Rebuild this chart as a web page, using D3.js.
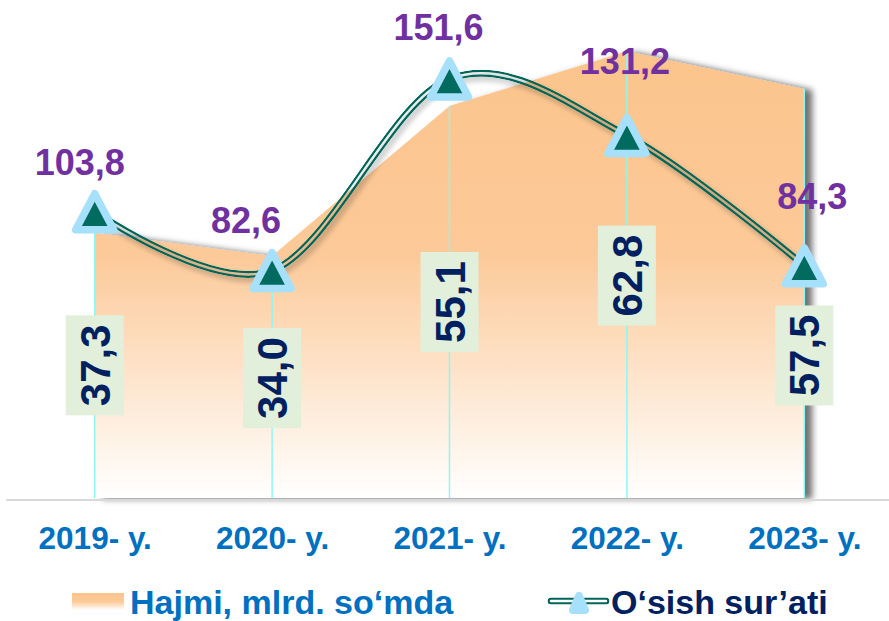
<!DOCTYPE html>
<html><head><meta charset="utf-8">
<script src="https://cdn.jsdelivr.net/npm/d3@7"></script>
<style>body{margin:0;background:#fff}svg{display:block}</style>
</head><body>
<svg id="c" width="889" height="621"></svg>
<script>
// ---- data ----
const categories = ["2019- y.", "2020- y.", "2021- y.", "2022- y.", "2023- y."];
const volume = [37.3, 34.0, 55.1, 62.8, 57.5];      // Hajmi, mlrd. so‘mda
const growth = [103.8, 82.6, 151.6, 131.2, 84.3];   // O‘sish sur’ati
const seriesNames = ["Hajmi, mlrd. so‘mda", "O‘sish sur’ati"];
// manual annotation placement (as in the original)
const growthLabelOffsets = [[-15, -37], [-26, -38], [-11, -39], [-2, -62], [8, -57]];
const volumeLabelShift = [0, 1, 0, 1, 62];

const W = 889, H = 621;
const FONT = "'Liberation Sans', Arial, sans-serif";
const svg = d3.select("#c");
const x = d3.scalePoint().domain(categories).range([6, 893]).padding(0.5);
const yVol = d3.scaleLinear().domain([0, 70]).range([498, 0]);
const yGr = d3.scaleLinear().domain([0, 180]).range([500, 0]);
const fmt = d3.formatLocale({decimal: ",", thousands: " ", grouping: [3], currency: ["", ""]}).format(".1f");

const defs = svg.append("defs");
const g1 = defs.append("linearGradient").attr("id", "areaGrad")
  .attr("gradientUnits", "userSpaceOnUse")
  .attr("x1", 0).attr("x2", 0).attr("y1", yVol(d3.max(volume))).attr("y2", yVol(0));
g1.append("stop").attr("offset", 0).attr("stop-color", "#FBC48C");
g1.append("stop").attr("offset", 0.45).attr("stop-color", "#FCC998");
g1.append("stop").attr("offset", 1).attr("stop-color", "#FFFFFF");
const g2 = defs.append("linearGradient").attr("id", "legGrad").attr("x1", 0).attr("x2", 0).attr("y1", 0).attr("y2", 1);
g2.append("stop").attr("offset", 0).attr("stop-color", "#FBC48C");
g2.append("stop").attr("offset", 0.5).attr("stop-color", "#FCC998");
g2.append("stop").attr("offset", 1).attr("stop-color", "#FFFFFF");

const fa = defs.append("filter").attr("id", "areaShadow").attr("x", "-10%").attr("y", "-10%").attr("width", "120%").attr("height", "120%");
fa.append("feDropShadow").attr("dx", 8).attr("dy", 1).attr("stdDeviation", 3)
  .attr("flood-color", "#000").attr("flood-opacity", 0.55);
const fl = defs.append("filter").attr("id", "lineShadow").attr("x", "-10%").attr("y", "-20%").attr("width", "120%").attr("height", "140%");
fl.append("feDropShadow").attr("dx", 3).attr("dy", 4).attr("stdDeviation", 2.5)
  .attr("flood-color", "#000").attr("flood-opacity", 0.35);

const lineGen = d3.line().x((d, i) => x(categories[i])).y(d => yGr(d)).curve(d3.curveCardinal.tension(0));
const areaGen = d3.area().x((d, i) => x(categories[i])).y0(yVol(0)).y1(d => yVol(d));

// mask for double line (transparent gap)
const mk = defs.append("mask").attr("id", "dblMask").attr("maskUnits", "userSpaceOnUse")
  .attr("x", 0).attr("y", 0).attr("width", W).attr("height", H);
mk.append("path").attr("d", lineGen(growth)).attr("fill", "none").attr("stroke", "#fff").attr("stroke-width", 7);
mk.append("path").attr("d", lineGen(growth)).attr("fill", "none").attr("stroke", "#000").attr("stroke-width", 2.4);

// ---- area ----
svg.append("path").attr("d", areaGen(volume)).attr("fill", "url(#areaGrad)").attr("filter", "url(#areaShadow)");

// baseline
svg.append("line").attr("x1", 6).attr("x2", W).attr("y1", 500).attr("y2", 500)
  .attr("stroke", "#D9D9D9").attr("stroke-width", 2);

// drop lines
svg.append("g").selectAll("line").data(volume).join("line")
  .attr("x1", (d, i) => x(categories[i])).attr("x2", (d, i) => x(categories[i]))
  .attr("y1", d => yVol(d)).attr("y2", yVol(0))
  .attr("stroke", "#8CF7F7").attr("stroke-width", 1.5);

// volume labels (rotated, in green boxes)
const vl = svg.append("g").selectAll("g").data(volume).join("g")
  .attr("transform", (d, i) => `translate(${x(categories[i])},${(yVol(d) + yVol(0)) / 2 + volumeLabelShift[i]})`);
vl.append("rect").attr("x", -29).attr("y", -50).attr("width", 58).attr("height", 100).attr("fill", "#E2EFDA");
vl.append("text").attr("transform", "rotate(-90)")
  .attr("text-anchor", "middle").attr("y", 15)
  .attr("font-family", FONT).attr("font-weight", "bold").attr("font-size", 42)
  .attr("fill", "#002060").text(d => fmt(d));

// ---- growth line ----
const lg = svg.append("g").attr("filter", "url(#lineShadow)");
lg.append("path").attr("d", lineGen(growth)).attr("fill", "none")
  .attr("stroke", "#00665A").attr("stroke-width", 7).attr("mask", "url(#dblMask)");

// markers
function tri(w, h) { return `M0,${-h / 2}L${w / 2},${h / 2}L${-w / 2},${h / 2}Z`; }
svg.append("g").selectAll("path").data(growth).join("path")
  .attr("transform", (d, i) => `translate(${x(categories[i])},${yGr(d)})`)
  .attr("d", tri(38, 36)).attr("fill", "#006B5E")
  .attr("stroke", "#A6E0FA").attr("stroke-width", 7.5).attr("stroke-linejoin", "round");

// growth labels
svg.append("g").selectAll("text").data(growth).join("text")
  .attr("x", (d, i) => x(categories[i]) + growthLabelOffsets[i][0])
  .attr("y", (d, i) => yGr(d) + growthLabelOffsets[i][1])
  .attr("text-anchor", "middle")
  .attr("font-family", FONT).attr("font-weight", "bold").attr("font-size", 36)
  .attr("fill", "#7030A0").text(d => fmt(d));

// ---- x axis ----
const ax = svg.append("g").attr("transform", "translate(0,500)")
  .call(d3.axisBottom(x).tickSize(0).tickPadding(27));
ax.select(".domain").remove();
ax.selectAll("text").attr("font-family", FONT).attr("font-weight", "bold")
  .attr("font-size", 31.5).attr("fill", "#0070C0");

// ---- legend ----
const leg = svg.append("g");
leg.append("rect").attr("x", 72).attr("y", 593).attr("width", 52).attr("height", 17).attr("fill", "url(#legGrad)");
leg.append("text").attr("x", 130).attr("y", 614)
  .attr("font-family", FONT).attr("font-weight", "bold").attr("font-size", 34)
  .attr("fill", "#0070C0").text(seriesNames[0]);

const mk2 = defs.append("mask").attr("id", "legMask").attr("maskUnits", "userSpaceOnUse")
  .attr("x", 0).attr("y", 0).attr("width", W).attr("height", H);
mk2.append("line").attr("x1", 551).attr("x2", 606).attr("y1", 601).attr("y2", 601).attr("stroke", "#fff").attr("stroke-width", 7).attr("stroke-linecap", "round");
mk2.append("line").attr("x1", 551).attr("x2", 606).attr("y1", 601).attr("y2", 601).attr("stroke", "#000").attr("stroke-width", 2.4).attr("stroke-linecap", "round");
leg.append("line").attr("x1", 551).attr("x2", 606).attr("y1", 601).attr("y2", 601)
  .attr("stroke", "#00665A").attr("stroke-width", 7).attr("stroke-linecap", "round").attr("mask", "url(#legMask)");
leg.append("path").attr("transform", "translate(579,603)").attr("d", tri(12, 14))
  .attr("fill", "#006B5E").attr("stroke", "#A6E0FA").attr("stroke-width", 8).attr("stroke-linejoin", "round");
leg.append("text").attr("x", 611).attr("y", 614)
  .attr("font-family", FONT).attr("font-weight", "bold").attr("font-size", 34)
  .attr("fill", "#002060").text(seriesNames[1]);
</script>
</body></html>
